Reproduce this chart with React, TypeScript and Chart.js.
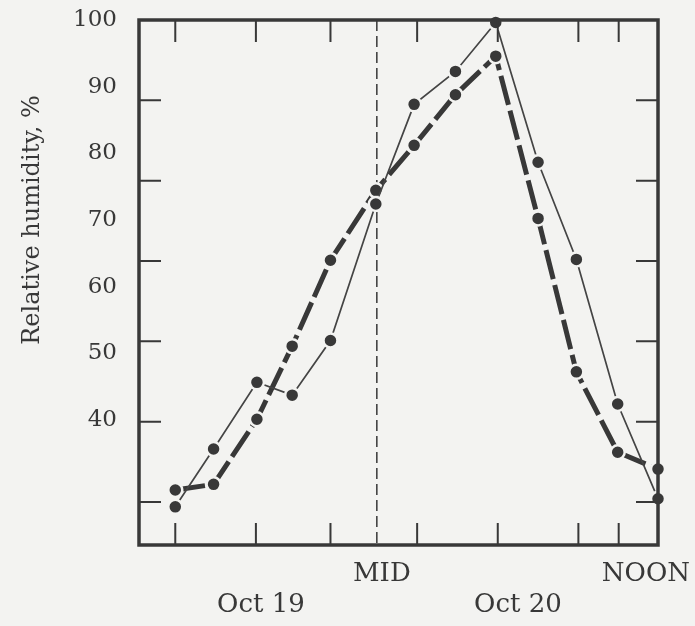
import React, { useEffect, useRef } from "react";
import { Chart, registerables } from "chart.js";

Chart.register(...registerables);

// ---- data (hours relative to midnight Oct 19/20) ----
const hours = [-10, -8.1, -5.95, -4.2, -2.3, -0.05, 1.85, 3.9, 5.9, 8.0, 9.9, 11.95, 13.95];
const thinSeries = [39.4, 46.6, 54.9, 53.3, 60.1, 77.1, 89.5, 93.6, 99.7, 82.3, 70.2, 52.2, 40.4];
const thickSeries = [41.5, 42.2, 50.3, 59.4, 70.1, 78.8, 84.4, 90.7, 95.5, 75.3, 56.2, 46.2, 44.1];

const xTickHours = [-10, -6, -2.3, 2, 6, 10, 12];
const yTickValues = [40, 50, 60, 70, 80, 90];
const yLabelValues = [40, 50, 60, 70, 80, 90, 100];
const timeLabels = ["MID", "NOON"];
const timeLabelHours = [0.25, 13.35];
const dateLabels = ["Oct 19", "Oct 20"];
const dateLabelHours = [-5.75, 7.0];
const midnightHour = 0;
const yTitle = "Relative humidity, %";

const X_MIN = -11.8;
const X_MAX = 13.95;
const Y_MIN = 34.65;
const Y_MAX = 100;
const YLBL_MIN = 21.25;
const YLBL_MAX = 100;

const BG = "#f3f3f1";
const INK = "#383838";
const TEXT = "#383838";
const FAMILY = '"DejaVu Serif", serif';

const zeroPad = (s: any) => {
  s.paddingTop = 0;
  s.paddingBottom = 0;
  s.paddingLeft = 0;
  s.paddingRight = 0;
};

const framePlugin = {
  id: "frame",
  beforeDatasetsDraw(chart: any) {
    const { ctx, chartArea: a, scales } = chart;
    const xm = scales.x.getPixelForValue(midnightHour);
    ctx.save();
    ctx.strokeStyle = INK;
    ctx.lineWidth = 1.5;
    ctx.setLineDash([11, 5]);
    ctx.beginPath();
    ctx.moveTo(xm, a.top);
    ctx.lineTo(xm, a.bottom);
    ctx.stroke();
    ctx.restore();
  },
  afterDatasetsDraw(chart: any) {
    const { ctx, chartArea: a, scales } = chart;
    const tl = 22;
    ctx.save();
    ctx.strokeStyle = INK;
    ctx.lineWidth = 2;
    ctx.beginPath();
    xTickHours.forEach((h) => {
      const px = scales.x.getPixelForValue(h);
      ctx.moveTo(px, a.bottom);
      ctx.lineTo(px, a.bottom - tl);
      ctx.moveTo(px, a.top);
      ctx.lineTo(px, a.top + tl);
    });
    yTickValues.forEach((v) => {
      const py = scales.y.getPixelForValue(v);
      ctx.moveTo(a.left, py);
      ctx.lineTo(a.left + tl, py);
      ctx.moveTo(a.right, py);
      ctx.lineTo(a.right - tl, py);
    });
    ctx.stroke();
    ctx.lineWidth = 3.5;
    ctx.strokeRect(a.left, a.top, a.right - a.left, a.bottom - a.top);
    ctx.restore();
  },
  afterDraw(chart: any) {
    const { ctx, scales } = chart;
    const cy = scales.y2.getPixelForValue((yLabelValues[0] + yLabelValues[yLabelValues.length - 1]) / 2);
    ctx.save();
    ctx.fillStyle = TEXT;
    ctx.font = `24px ${FAMILY}`;
    ctx.textAlign = "center";
    ctx.textBaseline = "middle";
    ctx.translate(33, cy);
    ctx.rotate(-Math.PI / 2);
    ctx.fillText(yTitle, 0, 0);
    ctx.restore();
  },
};

export default function App() {
  const ref = useRef<HTMLCanvasElement | null>(null);

  useEffect(() => {
    if (!ref.current) return;
    const mk = (vals: number[]) => vals.map((v, i) => ({ x: hours[i], y: v }));
    const chart = new Chart(ref.current, {
      type: "line",
      data: {
        datasets: [
          {
            label: "thin",
            data: mk(thinSeries),
            borderColor: "#444444",
            borderWidth: 1.7,
            pointRadius: 7,
            pointBackgroundColor: INK,
            pointBorderColor: BG,
            pointBorderWidth: 2.5,
            tension: 0,
            clip: false as any,
          },
          {
            label: "thick",
            data: mk(thickSeries),
            borderColor: INK,
            borderWidth: 5,
            borderDash: [30, 6],
            pointRadius: 7,
            pointBackgroundColor: INK,
            pointBorderColor: BG,
            pointBorderWidth: 2.5,
            tension: 0,
            clip: false as any,
          },
        ],
      },
      options: {
        animation: false,
        responsive: false,
        devicePixelRatio: 1,
        layout: { padding: { top: 20, right: 37, left: 0, bottom: 0 } },
        plugins: { legend: { display: false }, tooltip: { enabled: false } },
        scales: {
          x: { type: "linear", min: X_MIN, max: X_MAX, display: false },
          y: { type: "linear", min: Y_MIN, max: Y_MAX, display: false },
          y2: {
            type: "linear",
            position: "left",
            min: YLBL_MIN,
            max: YLBL_MAX,
            grid: { display: false, drawTicks: false },
            border: { display: false },
            afterBuildTicks: (s: any) => {
              s.ticks = yLabelValues.map((v) => ({ value: v }));
            },
            afterFit: (s: any) => {
              s.width = 139;
              zeroPad(s);
            },
            ticks: {
              padding: 22,
              color: TEXT,
              font: { family: FAMILY, size: 23 },
              callback: (v: any) => String(v),
            },
          },
          x2: {
            type: "linear",
            position: "bottom",
            weight: 1,
            min: X_MIN,
            max: X_MAX,
            grid: { display: false, drawTicks: false },
            border: { display: false },
            afterBuildTicks: (s: any) => {
              s.ticks = timeLabelHours.map((v) => ({ value: v }));
            },
            afterFit: (s: any) => {
              s.height = 45;
              zeroPad(s);
            },
            ticks: {
              padding: 14,
              autoSkip: false,
              maxRotation: 0,
              minRotation: 0,
              color: TEXT,
              font: { family: FAMILY, size: 26 },
              callback: (_v: any, i: number) => timeLabels[i],
            },
          },
          x3: {
            type: "linear",
            position: "bottom",
            weight: 2,
            min: X_MIN,
            max: X_MAX,
            grid: { display: false, drawTicks: false },
            border: { display: false },
            afterBuildTicks: (s: any) => {
              s.ticks = dateLabelHours.map((v) => ({ value: v }));
            },
            afterFit: (s: any) => {
              s.height = 36;
              zeroPad(s);
            },
            ticks: {
              padding: 0,
              autoSkip: false,
              maxRotation: 0,
              minRotation: 0,
              color: TEXT,
              font: { family: FAMILY, size: 26 },
              callback: (_v: any, i: number) => dateLabels[i],
            },
          },
        } as any,
      },
      plugins: [framePlugin],
    });
    return () => chart.destroy();
  }, []);

  return (
    <div
      style={{
        position: "absolute",
        left: 0,
        top: 0,
        width: 695,
        height: 626,
        background: BG,
        overflow: "hidden",
      }}
    >
      <canvas ref={ref} width={695} height={626} style={{ display: "block" }} />
    </div>
  );
}
